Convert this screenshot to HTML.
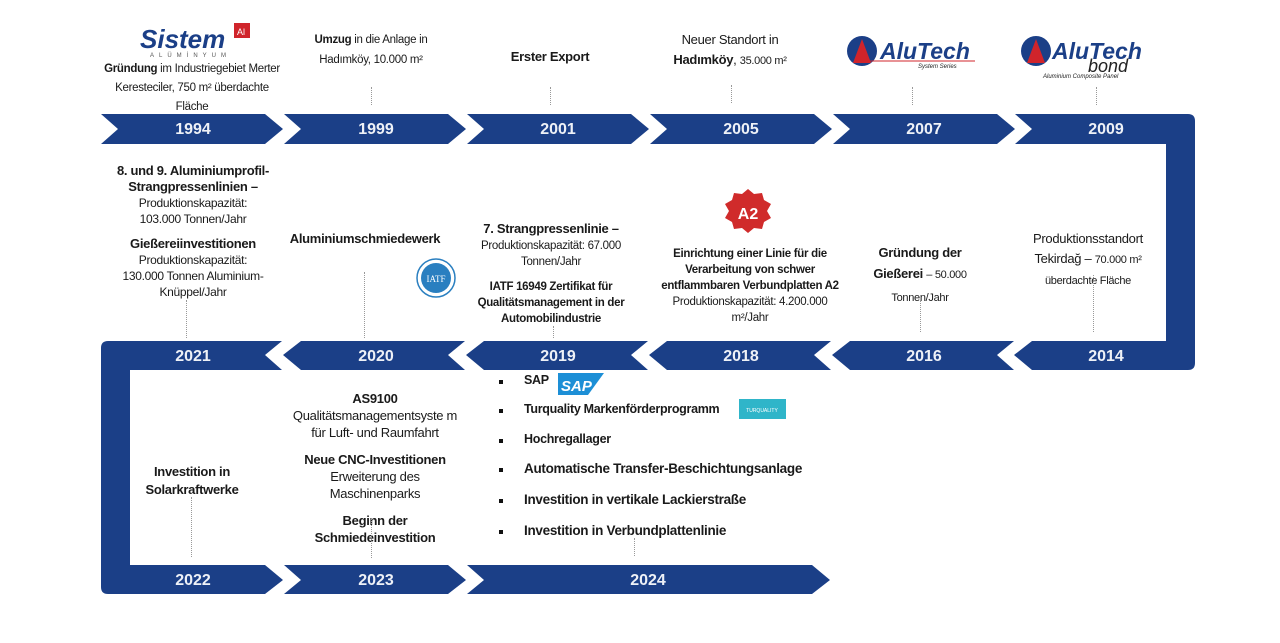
<!DOCTYPE html>
<html><head><meta charset="utf-8"><style>
body{margin:0;width:1280px;height:643px;overflow:hidden;background:#fff;font-family:"Liberation Sans","DejaVu Sans",sans-serif;color:#1a1a1a}
.t{position:absolute;text-align:center;font-size:11.5px;line-height:17px;letter-spacing:-0.3px}
b{font-weight:bold}
.d{position:absolute;border-left:1.5px dotted #999;width:0}
.y{position:absolute;color:#eef1f7;font-weight:bold;font-size:16px;text-align:center;width:100px}
.li{position:absolute;left:500px;font-size:12.5px;font-weight:bold;letter-spacing:-0.3px}
.li:before{content:"";position:absolute;left:-1px;top:7px;width:4px;height:4px;background:#111}
.li span{margin-left:24px}
</style></head><body>
<svg width="1280" height="643" style="position:absolute;left:0;top:0">
<g fill="#1b3f87">
<polygon points="101,114 265,114 283,129 265,144 101,144 118,129"/>
<polygon points="284,114 448,114 466,129 448,144 284,144 301,129"/>
<polygon points="467,114 631,114 649,129 631,144 467,144 484,129"/>
<polygon points="650,114 814,114 832,129 814,144 650,144 667,129"/>
<polygon points="833,114 997,114 1015,129 997,144 833,144 850,129"/>
<path d="M1015,114 L1188,114 Q1195,114 1195,121 L1195,363 Q1195,370 1188,370 L1032,370 L1014,355 L1032,341 L1166,341 L1166,144 L1015,144 L1032,129 Z"/>
<polygon points="850,341 1014,341 997,355 1014,370 850,370 832,355"/>
<polygon points="667,341 831,341 814,355 831,370 667,370 649,355"/>
<polygon points="484,341 648,341 631,355 648,370 484,370 466,355"/>
<polygon points="301,341 465,341 448,355 465,370 301,370 283,355"/>
<path d="M108,341 L282,341 L265,355 L282,370 L130,370 L130,565 L265,565 L283,580 L265,594 L108,594 Q101,594 101,587 L101,348 Q101,341 108,341 Z"/>
<polygon points="284,565 448,565 466,580 448,594 284,594 301,580"/>
<polygon points="467,565 812,565 830,580 812,594 467,594 484,580"/>
</g>
<text x="140" y="48" font-family="Liberation Sans" font-style="italic" font-weight="bold" font-size="26" fill="#1b3f87">Sistem</text>
<rect x="234" y="23" width="16" height="15" fill="#d0242b"/>
<text x="237" y="35" font-size="9" fill="#fff" font-family="Liberation Sans">Al</text>
<text x="150" y="57" font-size="6" fill="#555" letter-spacing="5" font-family="Liberation Sans">ALÜMİNYUM</text>
<circle cx="862" cy="51" r="15" fill="#1b3f87"/><polygon points="862,39 853,63 871,63" fill="#d0242b"/>
<text x="880" y="59" font-family="Liberation Sans" font-style="italic" font-weight="bold" font-size="23" fill="#1b3f87">AluTech</text>
<line x1="862" y1="61" x2="975" y2="61" stroke="#d0242b" stroke-width="1"/>
<text x="918" y="68" font-size="6" font-style="italic" fill="#222" font-family="Liberation Sans">System Series</text>
<circle cx="1036" cy="51" r="15" fill="#1b3f87"/><polygon points="1036,39 1027,63 1045,63" fill="#d0242b"/>
<text x="1052" y="59" font-family="Liberation Sans" font-style="italic" font-weight="bold" font-size="23" fill="#1b3f87">AluTech</text>
<text x="1088" y="72" font-family="Liberation Sans" font-style="italic" font-size="18" fill="#222">bond</text>
<text x="1043" y="78" font-size="6" font-style="italic" fill="#222" font-family="Liberation Sans">Aluminium Composite Panel</text>
<circle cx="436" cy="278" r="19" fill="#fff" stroke="#2a7fc0" stroke-width="1.5"/>
<circle cx="436" cy="278" r="15" fill="#2a7fc0"/>
<text x="436" y="282" font-size="9" fill="#fff" text-anchor="middle" font-family="Liberation Serif">IATF</text>
<polygon points="748,189 754,194 762,193 764,200 771,204 767,211 771,218 764,222 762,229 754,228 748,233 742,228 734,229 732,222 725,218 729,211 725,204 732,200 734,193 742,194" fill="#d02b2b"/>
<text x="748" y="219" font-size="16" font-weight="bold" fill="#fff" text-anchor="middle" font-family="Liberation Sans">A2</text>
<polygon points="558,373 604,373 588,395 558,395" fill="#1d8fd6"/>
<text x="561" y="391" font-size="15" font-weight="bold" fill="#fff" font-style="italic" font-family="Liberation Sans">SAP</text>
<rect x="739" y="399" width="47" height="20" fill="#2fb5c9"/>
<text x="762" y="412" font-size="5" fill="#fff" text-anchor="middle" font-family="Liberation Sans">TURQUALITY</text>
</svg>
<div class="y" style="left:143px;top:121px">1994</div>
<div class="y" style="left:326px;top:121px">1999</div>
<div class="y" style="left:508px;top:121px">2001</div>
<div class="y" style="left:691px;top:121px">2005</div>
<div class="y" style="left:874px;top:121px">2007</div>
<div class="y" style="left:1056px;top:121px">2009</div>
<div class="y" style="left:143px;top:348px">2021</div>
<div class="y" style="left:326px;top:348px">2020</div>
<div class="y" style="left:508px;top:348px">2019</div>
<div class="y" style="left:691px;top:348px">2018</div>
<div class="y" style="left:874px;top:348px">2016</div>
<div class="y" style="left:1056px;top:348px">2014</div>
<div class="y" style="left:143px;top:572px">2022</div>
<div class="y" style="left:326px;top:572px">2023</div>
<div class="y" style="left:598px;top:572px">2024</div>

<div class="t" style="left:94px;top:60px;width:196px;font-size:11.5px;line-height:19px"><b>Gründung</b> im Industriegebiet Merter Keresteciler, 750 m² überdachte<br>Fläche</div>
<div class="t" style="left:296px;top:30px;width:150px;line-height:20px"><b>Umzug</b> in die Anlage in Hadımköy, 10.000 m²</div>
<div class="t" style="left:480px;top:48px;width:140px;font-size:13px"><b>Erster Export</b></div>
<div class="t" style="left:650px;top:30px;width:160px;font-size:13px;line-height:20px">Neuer Standort in <b>Hadımköy</b>, <span style="font-size:11px">35.000 m²</span></div>
<div class="d" style="left:371px;top:87px;height:18px"></div>
<div class="d" style="left:550px;top:87px;height:18px"></div>
<div class="d" style="left:731px;top:85px;height:18px"></div>
<div class="d" style="left:912px;top:87px;height:18px"></div>
<div class="d" style="left:1096px;top:87px;height:18px"></div>

<div class="t" style="left:108px;top:163px;width:170px;font-size:12px;line-height:16px"><b style="font-size:13px">8. und 9. Aluminiumprofil-Strangpressenlinien –</b><br>Produktionskapazität:<br>103.000 Tonnen/Jahr<br><div style="height:9px"></div><b style="font-size:13px">Gießereiinvestitionen</b><br>Produktionskapazität:<br>130.000 Tonnen Aluminium-Knüppel/Jahr</div>
<div class="d" style="left:186px;top:300px;height:38px"></div>
<div class="t" style="left:275px;top:230px;width:180px;font-size:13px"><b>Aluminiumschmiedewerk</b></div>
<div class="d" style="left:364px;top:272px;height:66px"></div>
<div class="t" style="left:462px;top:221px;width:178px;font-size:11.5px;line-height:16px"><b style="font-size:13px">7. Strangpressenlinie –</b><br>Produktionskapazität: 67.000 Tonnen/Jahr<br><div style="height:9px"></div><b>IATF 16949 Zertifikat für Qualitätsmanagement in der Automobilindustrie</b></div>
<div class="d" style="left:553px;top:326px;height:12px"></div>
<div class="t" style="left:655px;top:246px;width:190px;font-size:11.5px;line-height:16px"><b>Einrichtung einer Linie für die Verarbeitung von schwer entflammbaren Verbundplatten A2</b><br>Produktionskapazität: 4.200.000 m²/Jahr</div>
<div class="t" style="left:855px;top:242px;width:130px;font-size:13px;line-height:21px"><b>Gründung der Gießerei</b> <span style="font-size:11px">– 50.000 Tonnen/Jahr</span></div>
<div class="d" style="left:920px;top:300px;height:32px"></div>
<div class="t" style="left:1018px;top:229px;width:140px;font-size:13px;line-height:20px">Produktionsstandort Tekirdağ – <span style="font-size:11px">70.000 m² überdachte Fläche</span></div>
<div class="d" style="left:1093px;top:275px;height:57px"></div>

<div class="t" style="left:130px;top:463px;width:124px;font-size:13px;line-height:18px"><b>Investition in Solarkraftwerke</b></div>
<div class="d" style="left:191px;top:497px;height:60px"></div>
<div class="t" style="left:285px;top:390px;width:180px;font-size:13px;line-height:17px"><b>AS9100</b><br>Qualitätsmanagementsyste m für Luft- und Raumfahrt<div style="height:10px"></div><b>Neue CNC-Investitionen</b><br>Erweiterung des Maschinenparks<div style="height:10px"></div><b>Beginn der Schmiedeinvestition</b></div>
<div class="d" style="left:371px;top:518px;height:40px"></div>
<div class="li" style="top:373px"><span>SAP</span></div>
<div class="li" style="top:402px"><span>Turquality Markenförderprogramm</span></div>
<div class="li" style="top:432px"><span>Hochregallager</span></div>
<div class="li" style="top:461px;font-size:13.5px"><span>Automatische Transfer-Beschichtungsanlage</span></div>
<div class="li" style="top:492px;font-size:13.5px"><span>Investition in vertikale Lackierstraße</span></div>
<div class="li" style="top:523px;font-size:13.5px"><span>Investition in Verbundplattenlinie</span></div>
<div class="d" style="left:634px;top:538px;height:18px"></div>
</body></html>
